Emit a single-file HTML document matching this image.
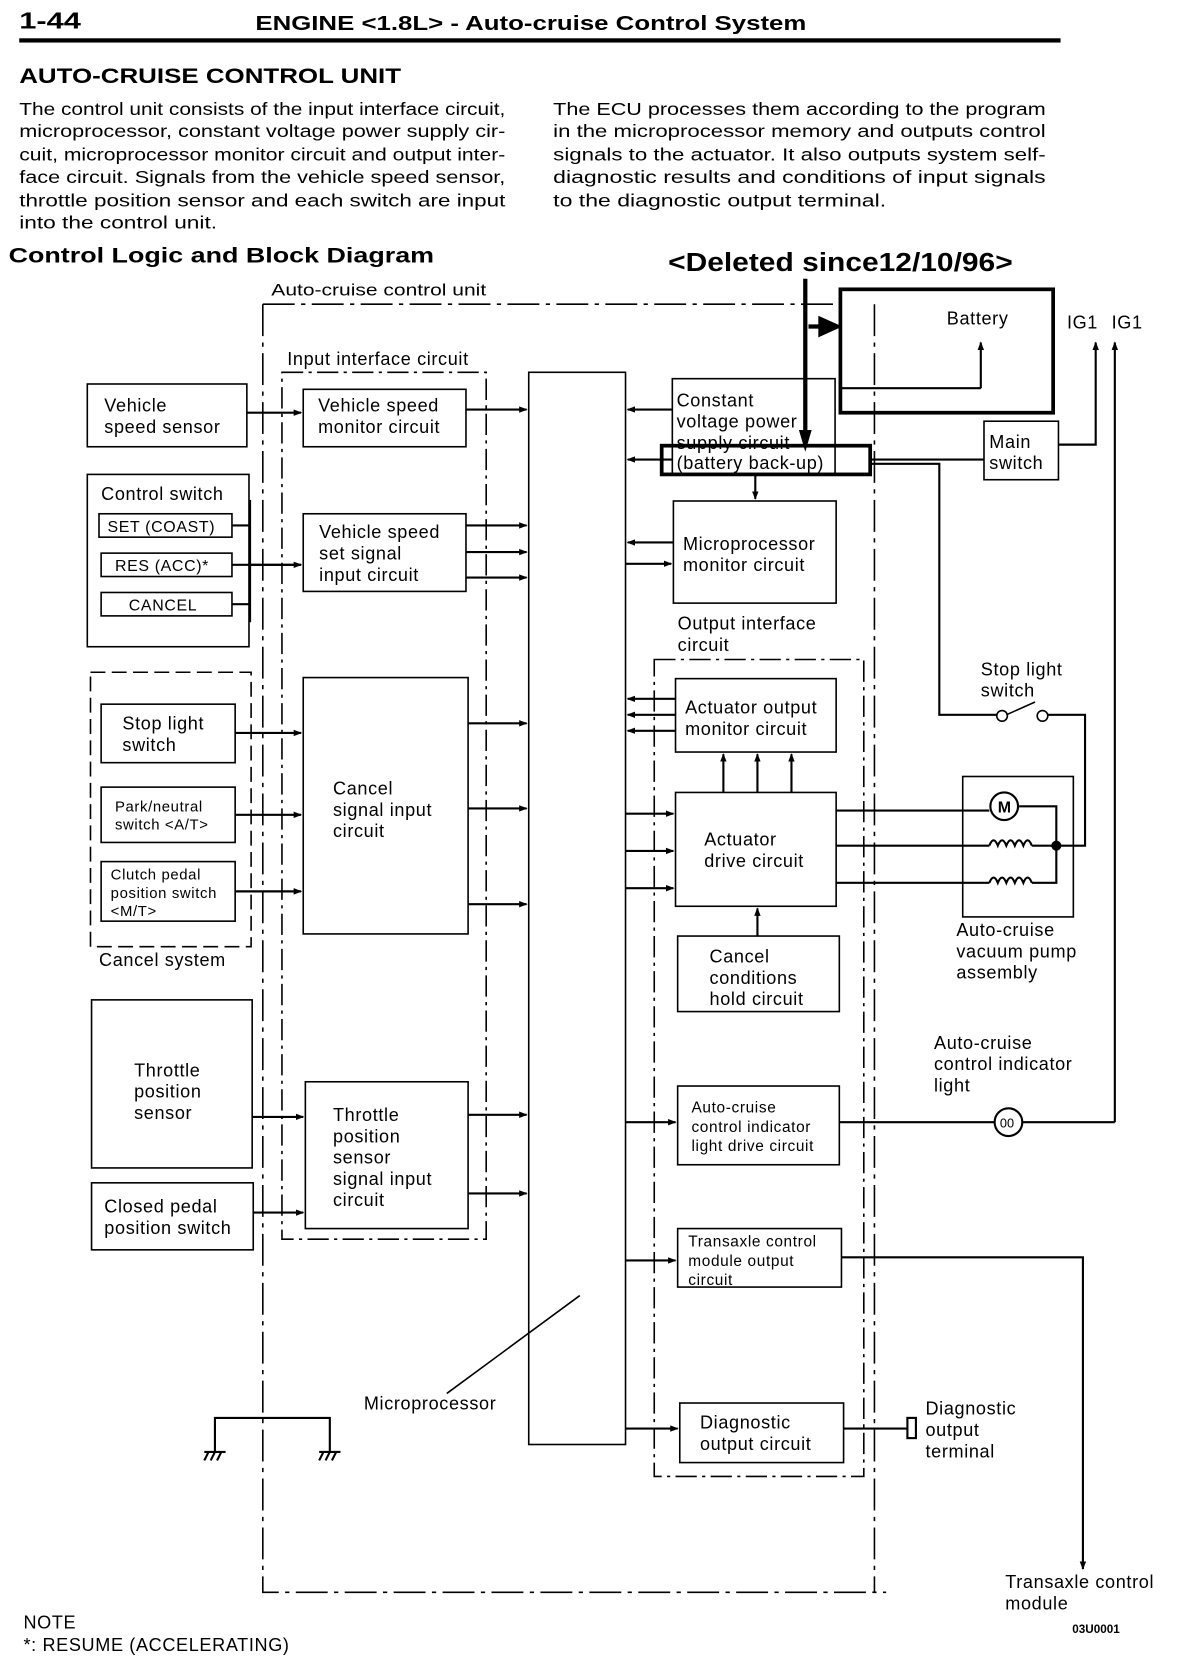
<!DOCTYPE html>
<html><head><meta charset="utf-8"><style>
html,body{margin:0;padding:0;background:#fff;}
svg{display:block;}
text{font-family:"Liberation Sans",Arial,sans-serif;fill:#000;}
.b{font-weight:bold;}
.d text{letter-spacing:0.6px;}
</style></head><body>
<svg width="1200" height="1670" viewBox="0 0 1128 1570" xmlns="http://www.w3.org/2000/svg">
<defs>
<marker id="a" markerWidth="8" markerHeight="8" refX="7" refY="4" orient="auto" markerUnits="userSpaceOnUse"><path d="M0,1 L8,4 L0,7 z" fill="#000"/></marker>
</defs>
<rect width="1128" height="1570" fill="#fff"/>
<text x="18" y="27" class="b" font-size="22" textLength="58" lengthAdjust="spacingAndGlyphs">1-44</text>
<text x="240" y="28" class="b" font-size="19" textLength="518" lengthAdjust="spacingAndGlyphs">ENGINE &lt;1.8L&gt; - Auto-cruise Control System</text>
<rect x="18" y="36" width="979" height="4" fill="#000"/>
<text x="18" y="78" class="b" font-size="20" textLength="359" lengthAdjust="spacingAndGlyphs">AUTO-CRUISE CONTROL UNIT</text>
<g font-size="16.5" lengthAdjust="spacingAndGlyphs">
<text x="18" y="108" textLength="457" lengthAdjust="spacingAndGlyphs">The control unit consists of the input interface circuit,</text>
<text x="18" y="129" textLength="457" lengthAdjust="spacingAndGlyphs">microprocessor, constant voltage power supply cir-</text>
<text x="18" y="151" textLength="457" lengthAdjust="spacingAndGlyphs">cuit, microprocessor monitor circuit and output inter-</text>
<text x="18" y="172" textLength="457" lengthAdjust="spacingAndGlyphs">face circuit. Signals from the vehicle speed sensor,</text>
<text x="18" y="194" textLength="457" lengthAdjust="spacingAndGlyphs">throttle position sensor and each switch are input</text>
<text x="18" y="215" textLength="186" lengthAdjust="spacingAndGlyphs">into the control unit.</text>
<text x="520" y="108" textLength="463" lengthAdjust="spacingAndGlyphs">The ECU processes them according to the program</text>
<text x="520" y="129" textLength="463" lengthAdjust="spacingAndGlyphs">in the microprocessor memory and outputs control</text>
<text x="520" y="151" textLength="463" lengthAdjust="spacingAndGlyphs">signals to the actuator. It also outputs system self-</text>
<text x="520" y="172" textLength="463" lengthAdjust="spacingAndGlyphs">diagnostic results and conditions of input signals</text>
<text x="520" y="194" textLength="313" lengthAdjust="spacingAndGlyphs">to the diagnostic output terminal.</text>
</g>
<text x="8" y="247" class="b" font-size="20" textLength="400" lengthAdjust="spacingAndGlyphs">Control Logic and Block Diagram</text>
<text x="628" y="255" class="b" font-size="24" textLength="324" lengthAdjust="spacingAndGlyphs">&lt;Deleted since12/10/96&gt;</text>
<text x="255" y="278" font-size="16" textLength="202" lengthAdjust="spacingAndGlyphs">Auto-cruise control unit</text>

<g fill="none" stroke="#000" stroke-width="1.5">
<path d="M247,286 H790 M247,286 V1497 H833 M822,286 V1497" stroke-dasharray="30,6,4,6"/>
<rect x="790" y="272" width="200" height="116" stroke-width="3.5"/>
<path d="M922,365 V322" marker-end="url(#a)" stroke-width="2"/>
<path d="M790,365 H922" stroke-width="2"/>
<path d="M757,262 V420" stroke-width="4"/>
<path d="M752,405 L757,422 L762,405 z" fill="#000"/>
<path d="M760,307 H785" stroke-width="4"/>
<path d="M770,298 L790,307 L770,316 z" fill="#000"/>
<rect x="622" y="419" width="196" height="27" stroke-width="3.5"/>
<rect x="265" y="350" width="192" height="815" stroke-dasharray="20,5,3,5"/>
<rect x="82" y="361" width="150" height="59"/>
<rect x="285" y="366" width="153" height="54"/>
<rect x="82" y="446" width="152" height="162"/>
<rect x="93" y="483" width="125" height="22"/>
<rect x="95" y="520" width="123" height="22"/>
<rect x="95" y="557" width="123" height="22"/>
<rect x="285" y="483" width="153" height="73"/>
<rect x="85" y="632" width="151" height="258" stroke-dasharray="14,6"/>
<rect x="95" y="662" width="126" height="55"/>
<rect x="95" y="740" width="126" height="52"/>
<rect x="95" y="810" width="126" height="56"/>
<rect x="285" y="637" width="155" height="241"/>
<rect x="86" y="940" width="151" height="158"/>
<rect x="86" y="1112" width="152" height="63"/>
<rect x="287" y="1017" width="153" height="138"/>
<rect x="497" y="350" width="91" height="1008"/>
<rect x="632" y="356" width="153" height="90"/>
<rect x="633" y="471" width="153" height="96"/>
<rect x="615" y="620" width="197" height="768" stroke-dasharray="20,5,3,5"/>
<rect x="635" y="638" width="151" height="69"/>
<rect x="635" y="745" width="151" height="107"/>
<rect x="637" y="880" width="152" height="71"/>
<rect x="637" y="1021" width="152" height="74"/>
<rect x="637" y="1155" width="154" height="55"/>
<rect x="639" y="1319" width="154" height="56"/>
<rect x="925" y="396" width="70" height="55"/>
<path d="M995,418 H1030 V322" marker-end="url(#a)" stroke-width="2"/>
<path d="M1048,1055 V322" marker-end="url(#a)" stroke-width="2"/>
<path d="M818,432 H925" stroke-width="2"/>
<path d="M818,436 H883 V672 H937 M985,672 H1020 V795 H993" stroke-width="2"/>
<circle cx="942" cy="673" r="5" fill="#fff"/><circle cx="980" cy="673" r="5" fill="#fff"/>
<path d="M946,672 L973,660"/>
<rect x="905" y="730" width="104" height="132"/>
<path d="M786,762 H930 M958,758 H993 V830 H970 M786,795 H930 M970,795 H993 M786,830 H930" stroke-width="2"/>
<circle cx="944" cy="758" r="13" fill="#fff" stroke-width="2"/>
<path d="M930,795 q4,-10 8,0 q4,-10 8,0 q4,-10 8,0 q4,-10 8,0 q4,-10 8,0 M930,830 q4,-10 8,0 q4,-10 8,0 q4,-10 8,0 q4,-10 8,0 q4,-10 8,0" stroke-width="2"/>
<circle cx="993" cy="795" r="4" fill="#000"/>
<path d="M789,1055 H1048" stroke-width="2"/>
<circle cx="948" cy="1055" r="13" fill="#fff" stroke-width="2"/>
<path d="M791,1182 H1018 V1475" marker-end="url(#a)" stroke-width="2"/>
<path d="M793,1343 H853" stroke-width="2"/>
<rect x="853" y="1333" width="8" height="19" stroke-width="2"/>
<path d="M202,1365 V1333 H310 V1365 M192,1365 H212 M300,1365 H320 M196,1365 l-4,8 M202,1365 l-4,8 M208,1365 l-4,8 M304,1365 l-4,8 M310,1365 l-4,8 M316,1365 l-4,8" stroke-width="2"/>
<path d="M420,1310 L545,1218"/>
</g>
<g stroke="#000" stroke-width="2" fill="none">
<path d="M232,388 H283" marker-end="url(#a)"/>
<path d="M438,385 H495" marker-end="url(#a)"/>
<path d="M218,494 H235 M218,531 H283 M218,568 H235 M235,470 V585" />
<path d="M235,531 H283" marker-end="url(#a)"/>
<path d="M438,494 H495" marker-end="url(#a)"/>
<path d="M438,519 H495" marker-end="url(#a)"/>
<path d="M438,543 H495" marker-end="url(#a)"/>
<path d="M221,689 H283" marker-end="url(#a)"/>
<path d="M221,766 H283" marker-end="url(#a)"/>
<path d="M221,838 H283" marker-end="url(#a)"/>
<path d="M440,680 H495" marker-end="url(#a)"/>
<path d="M440,760 H495" marker-end="url(#a)"/>
<path d="M440,850 H495" marker-end="url(#a)"/>
<path d="M237,1050 H285" marker-end="url(#a)"/>
<path d="M238,1140 H285" marker-end="url(#a)"/>
<path d="M440,1048 H495" marker-end="url(#a)"/>
<path d="M440,1122 H495" marker-end="url(#a)"/>
<path d="M632,385 H590" marker-end="url(#a)"/>
<path d="M632,432 H590" marker-end="url(#a)"/>
<path d="M710,446 V469" marker-end="url(#a)"/>
<path d="M633,510 H590" marker-end="url(#a)"/>
<path d="M588,530 H631" marker-end="url(#a)"/>
<path d="M635,657 H590" marker-end="url(#a)"/>
<path d="M635,672 H590" marker-end="url(#a)"/>
<path d="M635,687 H590" marker-end="url(#a)"/>
<path d="M680,745 V709" marker-end="url(#a)"/>
<path d="M712,745 V709" marker-end="url(#a)"/>
<path d="M744,745 V709" marker-end="url(#a)"/>
<path d="M588,765 H633" marker-end="url(#a)"/>
<path d="M588,800 H633" marker-end="url(#a)"/>
<path d="M588,835 H633" marker-end="url(#a)"/>
<path d="M712,880 V854" marker-end="url(#a)"/>
<path d="M588,1055 H635" marker-end="url(#a)"/>
<path d="M588,1185 H635" marker-end="url(#a)"/>
<path d="M588,1343 H637" marker-end="url(#a)"/>
</g>
<g font-size="17" class="d">
<text x="890" y="305">Battery</text>
<text x="1003" y="309">IG1</text><text x="1045" y="309">IG1</text>
<text x="270" y="343">Input interface circuit</text>
<text x="98" y="387">Vehicle</text><text x="98" y="407">speed sensor</text>
<text x="299" y="387">Vehicle speed</text><text x="299" y="407">monitor circuit</text>
<text x="95" y="470">Control switch</text>
<text x="101" y="500" font-size="15">SET (COAST)</text>
<text x="108" y="537" font-size="15">RES (ACC)*</text>
<text x="121" y="574" font-size="15">CANCEL</text>
<text x="300" y="506">Vehicle speed</text><text x="300" y="526">set signal</text><text x="300" y="546">input circuit</text>
<text x="115" y="686">Stop light</text><text x="115" y="706">switch</text>
<text x="108" y="763" font-size="14">Park/neutral</text><text x="108" y="780" font-size="14">switch &lt;A/T&gt;</text>
<text x="104" y="827" font-size="14">Clutch pedal</text><text x="104" y="844" font-size="14">position switch</text><text x="104" y="861" font-size="14">&lt;M/T&gt;</text>
<text x="93" y="908">Cancel system</text>
<text x="313" y="747">Cancel</text><text x="313" y="767">signal input</text><text x="313" y="787">circuit</text>
<text x="126" y="1012">Throttle</text><text x="126" y="1032">position</text><text x="126" y="1052">sensor</text>
<text x="98" y="1140">Closed pedal</text><text x="98" y="1160">position switch</text>
<text x="313" y="1054">Throttle</text><text x="313" y="1074">position</text><text x="313" y="1094">sensor</text><text x="313" y="1114">signal input</text><text x="313" y="1134">circuit</text>
<text x="636" y="382">Constant</text><text x="636" y="402">voltage power</text><text x="636" y="422">supply circuit</text><text x="636" y="441">(battery back-up)</text>
<text x="930" y="421">Main</text><text x="930" y="441">switch</text>
<text x="642" y="517">Microprocessor</text><text x="642" y="537">monitor circuit</text>
<text x="637" y="592">Output interface</text><text x="637" y="612">circuit</text>
<text x="644" y="671">Actuator output</text><text x="644" y="691">monitor circuit</text>
<text x="662" y="795">Actuator</text><text x="662" y="815">drive circuit</text>
<text x="667" y="905">Cancel</text><text x="667" y="925">conditions</text><text x="667" y="945">hold circuit</text>
<text x="650" y="1046" font-size="14.5">Auto-cruise</text><text x="650" y="1064" font-size="14.5">control indicator</text><text x="650" y="1082" font-size="14.5">light drive circuit</text>
<text x="647" y="1172" font-size="14.5">Transaxle control</text><text x="647" y="1190" font-size="14.5">module output</text><text x="647" y="1208" font-size="14.5">circuit</text>
<text x="658" y="1343">Diagnostic</text><text x="658" y="1363">output circuit</text>
<text x="922" y="635">Stop light</text><text x="922" y="655">switch</text>
<text x="899" y="880">Auto-cruise</text><text x="899" y="900">vacuum pump</text><text x="899" y="920">assembly</text>
<text x="878" y="986">Auto-cruise</text><text x="878" y="1006">control indicator</text><text x="878" y="1026">light</text>
<text x="870" y="1330">Diagnostic</text><text x="870" y="1350">output</text><text x="870" y="1370">terminal</text>
<text x="342" y="1325">Microprocessor</text>
<text x="945" y="1493">Transaxle control</text><text x="945" y="1513">module</text>
<text x="22" y="1531">NOTE</text>
<text x="22" y="1552">*: RESUME (ACCELERATING)</text>
</g>
<text x="938" y="764" class="b" font-size="15">M</text>
<text x="940" y="1060" font-size="12">00</text>
<text x="1008" y="1535" class="b" font-size="11">03U0001</text>
</svg>
</body></html>
